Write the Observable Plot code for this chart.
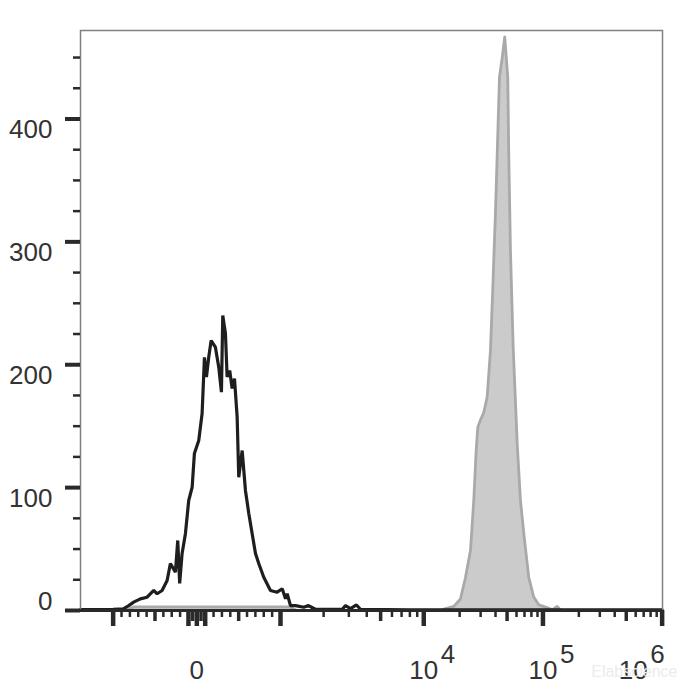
<!DOCTYPE html>
<html><head><meta charset="utf-8">
<script src="https://cdn.jsdelivr.net/npm/d3@7"></script>
<script src="https://cdn.jsdelivr.net/npm/@observablehq/plot@0.6"></script>
<style>body{margin:0;background:#fff;} #chart svg{display:block;}</style>
</head><body><div id="chart"></div>
<script>
// Unstained / control histogram (black outline): intensity, cell count
const blackIntensity = [-1690,-1000,-878,-814,-755,-675,-594,-515,-475,-415,-355,-316,-256,-228,-205,-176,-136,-97,-56,-29,23,63,91,115,142,171,222,262,294,310,342,362,393,422,450,482,501,542,581,621,661,701,740,800,880,960,1028,1084,1114,1174,1273,1454,1568,1750,2700,2842,3080,3390,3614,8000,100000,1000000];
const blackCount     = [0.8,1,1.4,4,6.8,9.5,10.8,16.3,13.6,16.3,24.4,38.2,31.2,57,22,46.4,62.7,89.5,100.3,127.8,138.3,160.3,206,190,206,219.7,214.3,198,177.7,240,225.4,190,195.3,180.7,188.8,157.3,108.5,130.2,97.7,79,62.7,46.4,38.2,27.1,16.3,14.9,17.7,9.5,13.6,4,4,2.6,4,1,1,4,1.5,4.5,1,0.5,0.5,0.5];
// Stained histogram (gray filled): intensity, cell count
const grayIntensity = [-1690,-850,-750,1150,1300,14000,15210,17850,20320,22380,24650,26270,27520,28380,29900,31870,34030,36270,37920,39960,41770,43160,45470,47800,50670,51660,53380,56230,60750,64760,69960,76020,83720,92210,108400,120000,131500,142000,1000000];
const grayCount     = [0,0,3,3,0,0,1.6,3.3,9.4,26.9,48.8,89.5,130.2,148.9,155,161.1,173.7,211.6,261.6,324.1,386.8,433.8,449.5,466.7,433.8,371.1,293,214.8,136.7,89.5,57.8,26.9,10.9,4.6,2.4,0.5,3.3,0,0];

// Axis ticks
const xMajorTicks  = [-1000,-100,0,100,1000,10000,100000,1000000];
const xMediumTicks = [-500,-50,50,500,5000,50000,500000];
const xMinorTicks  = [-900,-800,-700,-600,-400,-300,-200,200,300,400,600,700,800,900,
  2000,3000,4000,6000,7000,8000,9000,
  20000,30000,40000,60000,70000,80000,90000,
  200000,300000,400000,600000,700000,800000,900000];
const yMajorTicks = [0,100,200,300,400];
const yMinorTicks = [25,50,75,125,150,175,225,250,275,325,350,375,425,450];
const yTickLabels = ["0","100","200","300","400"];
const xLabelValues = [0,10000,100000,1000000];
const xLabelBase = ["0","10","10","10"];
const xLabelExp  = ["","4","5","6"];

// Biexponential-like display transform (display units: decades)
function D(v){
  if (v >= 1e4) return 4 + Math.log10(v/1e4);
  if (v >= 1e3) return 2.798 + 1.202*Math.log10(v/1e3);
  if (v > -1e3) return 2.096 + 0.702*v/1e3;
  return 1.394 - 1.202*Math.log10(-v/1e3);
}

const black = blackIntensity.map((v,i)=>({v, c: blackCount[i]}));
const gray = grayIntensity.map((v,i)=>({v, c: grayCount[i]}));
const yLab = yMajorTicks.map((y,i)=>({y, t: yTickLabels[i]}));
const xLab = xLabelValues.map((v,i)=>({v, b: xLabelBase[i], e: xLabelExp[i]}));

const ink = "#2a2a2a";
const font = "'Liberation Sans', Arial, Helvetica, sans-serif";

const chart = Plot.plot({
  width: 700, height: 700,
  marginLeft: 80, marginRight: 38, marginTop: 30, marginBottom: 90,
  style: {fontFamily: font, background: "#fff", color: ink},
  x: {type: "linear", domain: [1.12, 6.003], axis: null},
  y: {domain: [0, 472], axis: null},
  marks: [
    Plot.areaY(gray, {x: d => D(d.v), y: "c", fill: "#cbcbcb", curve: "linear"}),
    Plot.lineY(gray, {x: d => D(d.v), y: "c", stroke: "#a9a9a9", strokeWidth: 2.8, curve: "linear"}),
    Plot.lineY(black, {x: d => D(d.v), y: "c", stroke: "#1e1e1e", strokeWidth: 3.2, curve: "linear", strokeLinejoin: "miter"}),
    Plot.frame({stroke: "#808080", strokeWidth: 1.5}),
    Plot.ruleY([0], {stroke: ink, strokeWidth: 3}),
    // x ticks
    Plot.axisX(xMajorTicks.map(D), {anchor: "bottom", tickSize: 16, strokeWidth: 4.5, stroke: ink, tickFormat: () => "", label: null}),
    Plot.axisX(xMediumTicks.map(D), {anchor: "bottom", tickSize: 11, strokeWidth: 3.5, stroke: ink, tickFormat: () => "", label: null}),
    Plot.axisX(xMinorTicks.map(D), {anchor: "bottom", tickSize: 7, strokeWidth: 2.5, stroke: ink, tickFormat: () => "", label: null}),
    // y ticks
    Plot.axisY(yMajorTicks, {anchor: "left", tickSize: 15, strokeWidth: 4, stroke: ink, tickFormat: () => "", label: null}),
    Plot.axisY(yMinorTicks, {anchor: "left", tickSize: 7, strokeWidth: 2.5, stroke: ink, tickFormat: () => "", label: null}),
    // y labels
    Plot.text(yLab.filter(d => d.y > 0), {y: "y", text: "t", frameAnchor: "left", dx: -28, dy: 11, textAnchor: "end", fontSize: 26, fill: "#333"}),
    Plot.text(yLab.filter(d => d.y === 0), {y: "y", text: "t", frameAnchor: "left", dx: -28, dy: -9, textAnchor: "end", fontSize: 26, fill: "#333"}),
    // x labels
    Plot.text(xLab.filter(d => d.v < 1e6), {x: d => D(d.v), text: "b", frameAnchor: "bottom", dy: 68, textAnchor: "middle", fontSize: 26, fill: "#333"}),
    Plot.text(xLab.filter(d => d.v > 0 && d.v < 1e6), {x: d => D(d.v), text: "e", frameAnchor: "bottom", dx: 17, dy: 52, textAnchor: "start", fontSize: 26, fill: "#333"}),
    Plot.text(xLab.filter(d => d.v === 1e6), {x: d => D(d.v), text: "b", frameAnchor: "bottom", dx: -29, dy: 68, textAnchor: "middle", fontSize: 26, fill: "#333"}),
    Plot.text(xLab.filter(d => d.v === 1e6), {x: d => D(d.v), text: "e", frameAnchor: "bottom", dx: -12, dy: 52, textAnchor: "start", fontSize: 26, fill: "#333"}),
    // watermark (faint, as in the reference)
    Plot.text(["Elabscience"], {frameAnchor: "bottom-right", dx: 15, dy: 66, textAnchor: "end", fontSize: 16, fill: "#ececec"})
  ]
});
document.getElementById("chart").appendChild(chart);
</script>
</body></html>
